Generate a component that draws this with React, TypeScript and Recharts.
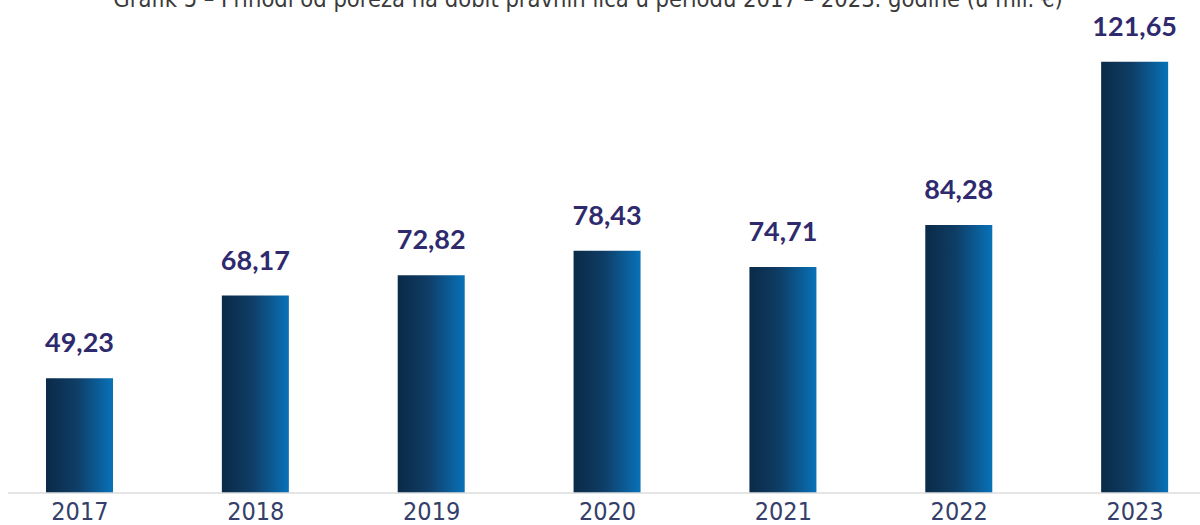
import React from 'react';
import { BarChart, Bar, XAxis, YAxis, LabelList } from 'recharts';

const years = ['2017', '2018', '2019', '2020', '2021', '2022', '2023'];
const revenue = [49.23, 68.17, 72.82, 78.43, 74.71, 84.28, 121.65];

const TITLE = 'Grafik 5 – Prihodi od poreza na dobit pravnih lica u periodu 2017 – 2023. godine (u mil. €)';

const data = years.map((year, i) => ({ year, value: revenue[i] }));

const fmt = (v: any) => Number(v).toFixed(2).replace('.', ',');

export default function App() {
    return (
        <div style={{ position: 'fixed', top: 0, left: 0, width: 1200, height: 525, overflow: 'hidden', background: '#fff' }}>
            <div
                style={{
                    position: 'absolute',
                    top: -12,
                    left: 0,
                    width: 1176,
                    textAlign: 'center',
                    fontFamily: '"Liberation Sans Narrow", "DejaVu Sans Condensed", sans-serif',
                    fontSize: 23.5,
                    lineHeight: '22px',
                    color: '#3a3a3a',
                    whiteSpace: 'nowrap',
                }}
            >
                {TITLE}
            </div>
            <div style={{ position: 'absolute', left: 0, top: 0 }}>
                <BarChart width={1200} height={525} data={data} margin={{ top: 20, right: 0, left: 8, bottom: 0 }}>
                    <defs>
                        <linearGradient id="barFill" x1="0" y1="0" x2="1" y2="0">
                            <stop offset="0%" stopColor="#0a2a48" />
                            <stop offset="45%" stopColor="#0f3d66" />
                            <stop offset="100%" stopColor="#0872b8" />
                        </linearGradient>
                    </defs>
                    <XAxis
                        dataKey="year"
                        height={32}
                        padding={{ left: -16, right: -23 }}
                        axisLine={{ stroke: '#dcdcdc', strokeWidth: 1.5 }}
                        tickLine={false}
                        tickSize={1}
                        tickMargin={8}
                        interval={0}
                        tick={{ fill: '#34406a', fontSize: 25, fontFamily: '"Liberation Sans Narrow", "DejaVu Sans Condensed", sans-serif' }}
                    />
                    <YAxis hide domain={[23, 131.2]} allowDataOverflow />
                    <Bar dataKey="value" fill="url(#barFill)" barSize={67} isAnimationActive={false}>
                        <LabelList
                            dataKey="value"
                            position="top"
                            offset={26}
                            formatter={fmt}
                            style={{ fill: '#2e2a6d', fontSize: 27, fontWeight: 700, fontFamily: 'Lato, sans-serif' }}
                        />
                    </Bar>
                </BarChart>
            </div>
        </div>
    );
}
